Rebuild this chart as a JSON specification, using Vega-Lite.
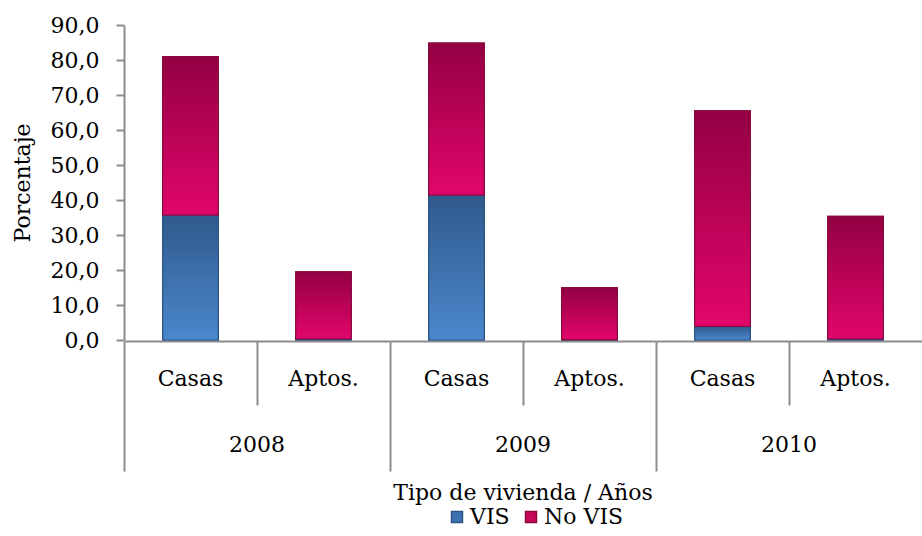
{
  "$schema": "https://vega.github.io/schema/vega-lite/v6.json",
  "padding": {"left": 11, "top": 14, "right": 0, "bottom": 0},
  "background": "white",
  "config": {
    "font": "DejaVu Serif",
    "view": {"stroke": null},
    "axis": {"labelFont": "DejaVu Serif", "titleFont": "DejaVu Serif", "labelColor": "#000", "titleColor": "#000"}
  },
  "data": {
    "values": [
      {"anio": "2008", "tipo": "Casas", "serie": "VIS", "valor": 35.7},
      {"anio": "2008", "tipo": "Casas", "serie": "No VIS", "valor": 45.3},
      {"anio": "2008", "tipo": "Aptos.", "serie": "VIS", "valor": 0.3},
      {"anio": "2008", "tipo": "Aptos.", "serie": "No VIS", "valor": 19.2},
      {"anio": "2009", "tipo": "Casas", "serie": "VIS", "valor": 41.4},
      {"anio": "2009", "tipo": "Casas", "serie": "No VIS", "valor": 43.4},
      {"anio": "2009", "tipo": "Aptos.", "serie": "VIS", "valor": 0.1},
      {"anio": "2009", "tipo": "Aptos.", "serie": "No VIS", "valor": 14.9},
      {"anio": "2010", "tipo": "Casas", "serie": "VIS", "valor": 3.9},
      {"anio": "2010", "tipo": "Casas", "serie": "No VIS", "valor": 61.6},
      {"anio": "2010", "tipo": "Aptos.", "serie": "VIS", "valor": 0.3},
      {"anio": "2010", "tipo": "Aptos.", "serie": "No VIS", "valor": 35.0}
    ]
  },
  "transform": [
    {"calculate": "datum.serie === 'VIS' ? 0 : 1", "as": "orden"},
    {"stack": "valor", "groupby": ["anio", "tipo"], "sort": [{"field": "orden", "order": "ascending"}], "as": ["v0", "v1"]}
  ],
  "facet": {
    "column": {
      "field": "anio", "type": "ordinal", "title": "Tipo de vivienda / Años",
      "header": {
        "labelOrient": "bottom", "titleOrient": "bottom",
        "labelFont": "DejaVu Serif", "titleFont": "DejaVu Serif",
        "labelFontSize": 22, "titleFontSize": 22, "titleFontWeight": "normal",
        "labelColor": "#000", "titleColor": "#000",
        "labelPadding": -37, "titlePadding": 1
      }
    }
  },
  "spacing": 0,
  "spec": {
    "width": 266,
    "height": 315,
    "encoding": {
      "x": {
        "field": "tipo", "type": "nominal", "sort": ["Casas", "Aptos."],
        "scale": {"paddingInner": 0, "paddingOuter": 0},
        "axis": {
          "title": null, "labelAngle": 0, "bandPosition": 0,
          "domainColor": "#8c8c8c", "domainWidth": 2,
          "tickColor": "#8c8c8c", "tickWidth": 2,
          "tickSize": {"condition": {"test": "datum.value === 'Casas'", "value": 130}, "value": 64},
          "labelPadding": {"condition": {"test": "datum.value === 'Casas'", "value": -103}, "value": -37},
          "labelFontSize": 22
        }
      },
      "y": {
        "field": "v0", "type": "quantitative",
        "scale": {"domain": [0, 90]},
        "axis": {
          "title": "Porcentaje", "values": [0, 10, 20, 30, 40, 50, 60, 70, 80, 90],
          "labelExpr": "replace(format(datum.value, '.1f'), '.', ',')",
          "grid": false, "tickSize": 8, "labelPadding": 17,
          "domainColor": "#8c8c8c", "domainWidth": 2, "tickColor": "#8c8c8c", "tickWidth": 2,
          "labelFontSize": 22, "titleFontSize": 22, "titleFontWeight": "normal", "titlePadding": 16
        }
      },
      "y2": {"field": "v1"}
    },
    "layer": [
      {
        "mark": {"type": "bar", "width": {"band": 0.418}, "strokeWidth": 1.2},
        "encoding": {
          "fill": {
            "field": "serie", "type": "nominal",
            "scale": {"domain": ["VIS", "No VIS"], "range": ["#3F72B0", "#C70A5A"]},
            "legend": {
              "orient": "none", "legendX": 322, "legendY": 481,
              "direction": "horizontal", "title": null,
              "symbolType": "square", "symbolSize": 120,
              "labelFont": "DejaVu Serif", "labelFontSize": 22, "labelColor": "#000",
              "columnPadding": 10, "labelOffset": 2
            }
          },
          "stroke": {
            "field": "serie", "type": "nominal",
            "scale": {"domain": ["VIS", "No VIS"], "range": ["#2C5385", "#8A0A3E"]},
            "legend": {
              "orient": "none", "legendX": 322, "legendY": 481,
              "direction": "horizontal", "title": null,
              "symbolType": "square", "symbolSize": 120,
              "labelFont": "DejaVu Serif", "labelFontSize": 22, "labelColor": "#000",
              "columnPadding": 10, "labelOffset": 2
            }
          }
        }
      },
      {
        "transform": [{"filter": "datum.serie === 'VIS'"}],
        "mark": {
          "type": "bar", "width": {"band": 0.418}, "strokeWidth": 1.2, "stroke": "#2C5385",
          "fill": {"gradient": "linear", "x1": 0, "y1": 0, "x2": 0, "y2": 1,
                   "stops": [{"offset": 0, "color": "#2F5A8C"}, {"offset": 1, "color": "#4B87CC"}]}
        }
      },
      {
        "transform": [{"filter": "datum.serie === 'No VIS'"}],
        "mark": {
          "type": "bar", "width": {"band": 0.418}, "strokeWidth": 1.2, "stroke": "#8A0A3E",
          "fill": {"gradient": "linear", "x1": 0, "y1": 0, "x2": 0, "y2": 1,
                   "stops": [{"offset": 0, "color": "#930043"}, {"offset": 1, "color": "#E2066B"}]}
        }
      }
    ]
  }
}
